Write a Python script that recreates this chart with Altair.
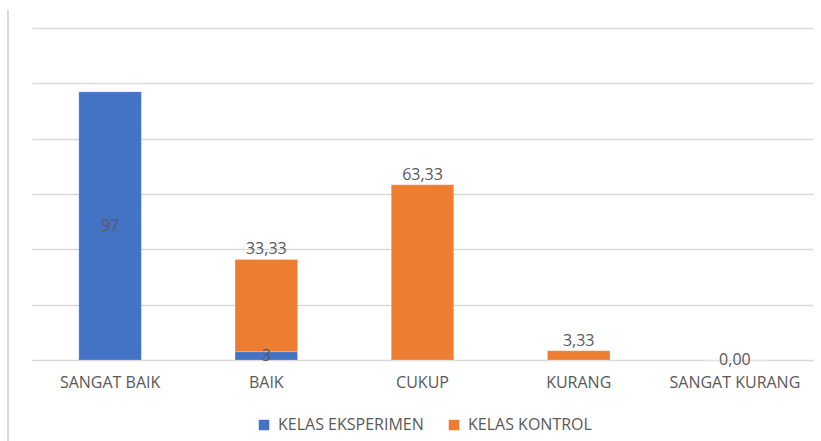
import altair as alt
import pandas as pd

categories = ["SANGAT BAIK", "BAIK", "CUKUP", "KURANG", "SANGAT KURANG"]
eksperimen = [97, 3, None, None, None]
kontrol = [None, 33.33, 63.33, 3.33, 0.00]
series = ["KELAS EKSPERIMEN", "KELAS KONTROL"]
colors = ["#4472C4", "#ED7D31"]
y_ticks = [0, 20, 40, 60, 80, 100, 120]

wide = pd.DataFrame({"cat": categories, "eks": eksperimen, "kon": kontrol})

rows = []
for c, e, k in zip(categories, eksperimen, kontrol):
    rows.append({"cat": c, "series": series[0], "value": e if e is not None else 0, "ord": 0})
    rows.append({"cat": c, "series": series[1], "value": k if k is not None else 0, "ord": 1})
long = pd.DataFrame(rows)

FONT = "Open Sans"
TXT = "#595959"

x = alt.X("cat:N", sort=categories, title=None,
          scale=alt.Scale(paddingInner=0.6, paddingOuter=0.3),
          axis=alt.Axis(labelAngle=0, ticks=False, domain=False, labelPadding=14,
                        labelFontSize=16, labelColor=TXT, labelFont=FONT, grid=False))
yscale = alt.Scale(domain=[0, 120], nice=False, zero=True)
yaxis = alt.Axis(values=y_ticks, labels=False, ticks=False, domain=False, title=None,
                 grid=True, gridColor="#D9D9D9", gridWidth=1.3)

bars = alt.Chart(long).mark_bar(stroke="white", strokeWidth=0.5, strokeOpacity=0.4).encode(
    x=x,
    y=alt.Y("value:Q", stack="zero", scale=yscale, axis=yaxis),
    color=alt.Color("series:N", scale=alt.Scale(domain=series, range=colors),
                    legend=alt.Legend(title=None, orient="none", legendX=224, legendY=389,
                                      direction="horizontal", symbolType="square",
                                      symbolSize=110, symbolStrokeWidth=0,
                                      labelFontSize=16, labelColor=TXT, labelFont=FONT,
                                      labelOffset=6, columnPadding=22, symbolOffset=0)),
    order=alt.Order("ord:Q"),
)

base = alt.Chart(wide)

eks_labels = base.transform_filter("isValid(datum.eks)").transform_calculate(
    mid="datum.eks / 2", lbl="format(datum.eks, 'd')"
).mark_text(fontSize=16, color=TXT, font=FONT, baseline="middle").encode(
    x=alt.X("cat:N", sort=categories),
    y=alt.Y("mid:Q", scale=yscale),
    text="lbl:N",
)

kon_labels = base.transform_filter("isValid(datum.kon) && datum.kon > 0").transform_calculate(
    top="(isValid(datum.eks) ? datum.eks : 0) + datum.kon",
    lbl="replace(format(datum.kon, '.2f'), '.', ',')"
).mark_text(fontSize=16, color=TXT, font=FONT, baseline="bottom", dy=-2).encode(
    x=alt.X("cat:N", sort=categories),
    y=alt.Y("top:Q", scale=yscale),
    text="lbl:N",
)

zero_labels = base.transform_filter("isValid(datum.kon) && datum.kon == 0").transform_calculate(
    lbl="replace(format(datum.kon, '.2f'), '.', ',')"
).mark_text(fontSize=16, color=TXT, font=FONT, baseline="middle", dy=0).encode(
    x=alt.X("cat:N", sort=categories),
    y=alt.Y("kon:Q", scale=yscale),
    text="lbl:N",
)

border = alt.Chart(wide).mark_rule(color="#D9D9D9", strokeWidth=1).encode(
    x=alt.value(-24), y=alt.value(-18), y2=alt.value(413)
)

chart = alt.layer(border, bars, eks_labels, kon_labels, zero_labels).properties(
    width=781, height=332,
    autosize=alt.AutoSizeParams(type="none"),
    padding={"left": 32, "top": 28, "right": 8, "bottom": 81},
    background="white",
).configure_view(strokeWidth=0, stroke="transparent")

chart.save("out.html", embed_options={"renderer": "svg", "actions": False})
